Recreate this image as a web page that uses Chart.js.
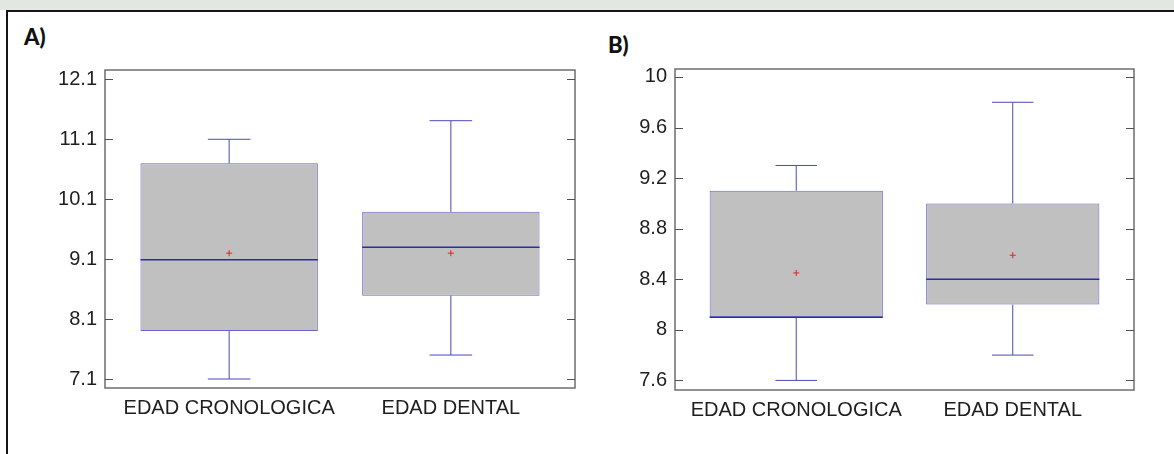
<!DOCTYPE html>
<html>
<head>
<meta charset="utf-8">
<script src="https://cdn.jsdelivr.net/npm/chart.js@4.4.1/dist/chart.umd.min.js"></script>
<style>
  body { margin: 0; width: 1174px; height: 454px; position: relative; overflow: hidden; background: #fff; }
  .strip { position: absolute; left: 0; top: 0; width: 1174px; height: 10px; background: #e3e7e1; }
  .frame { position: absolute; left: 6px; top: 10px; width: 1200px; height: 460px; border-top: 2px solid #151515; border-left: 2px solid #151515; }
  .lbl { position: absolute; font-family: Lato, "Liberation Sans", sans-serif; font-weight: 900; font-size: 22px; line-height: 22px; color: #111; }
  canvas { position: absolute; top: 0; }
</style>
</head>
<body>
<div class="strip"></div>
<div class="frame"></div>
<div class="lbl" style="left:24px; top:26px">A)</div>
<div class="lbl" style="left:608px; top:34px">B)</div>
<canvas id="chartA" width="590" height="454" style="left:0"></canvas>
<canvas id="chartB" width="584" height="454" style="left:590px"></canvas>
<script>
const categories = ['EDAD CRONOLOGICA', 'EDAD DENTAL'];

// A) box plot values
const minA = [7.1, 7.5];
const q1A = [7.9, 8.49];
const medA = [9.09, 9.3];
const q3A = [10.7, 9.89];
const maxA = [11.1, 11.41];
const meanA = [9.2, 9.2];
const yTicksA = [7.1, 8.1, 9.1, 10.1, 11.1, 12.1];

// B) box plot values
const minB = [7.6, 7.8];
const q1B = [8.1, 8.2];
const medB = [8.1, 8.4];
const q3B = [9.1, 9.0];
const maxB = [9.3, 9.8];
const meanB = [8.45, 8.59];
const yTicksB = [7.6, 8, 8.4, 8.8, 9.2, 9.6, 10];

const FONT = '"Liberation Sans", Arial, sans-serif';

// whiskers, caps and median line drawn right after the boxes
function boxExtras(st) {
    return {
        id: 'boxExtras',
        afterDatasetDraw(chart, args) {
            if (args.index !== 1) return;
            const ctx = chart.ctx;
            const x = chart.scales.x, y = chart.scales.y;
            ctx.save();
            args.meta.data.forEach((bar, i) => {
                const cx = x.getPixelForValue(i + 1);
                const half = bar.width / 2;
                const cap = half * 0.24;
                ctx.strokeStyle = '#4a4ab8';
                ctx.lineWidth = 1;
                ctx.beginPath();
                ctx.moveTo(cx, y.getPixelForValue(st.q3[i]));
                ctx.lineTo(cx, y.getPixelForValue(st.max[i]));
                ctx.moveTo(cx, y.getPixelForValue(st.q1[i]));
                ctx.lineTo(cx, y.getPixelForValue(st.min[i]));
                ctx.moveTo(cx - cap, y.getPixelForValue(st.max[i]));
                ctx.lineTo(cx + cap, y.getPixelForValue(st.max[i]));
                ctx.moveTo(cx - cap, y.getPixelForValue(st.min[i]));
                ctx.lineTo(cx + cap, y.getPixelForValue(st.min[i]));
                ctx.stroke();
                ctx.strokeStyle = '#2a2aaa';
                ctx.lineWidth = 1.5;
                ctx.beginPath();
                ctx.moveTo(cx - half, y.getPixelForValue(st.med[i]));
                ctx.lineTo(cx + half, y.getPixelForValue(st.med[i]));
                ctx.stroke();
            });
            ctx.restore();
        },
        afterDraw(chart) {
            const ctx = chart.ctx;
            const a = chart.chartArea;
            const y = chart.scales.y;
            ctx.save();
            ctx.strokeStyle = '#6e6e6e';
            ctx.lineWidth = 1.5;
            ctx.strokeRect(a.left, a.top, a.right - a.left, a.bottom - a.top);
            ctx.strokeStyle = '#505050';
            ctx.lineWidth = 1;
            ctx.beginPath();
            y.ticks.forEach(t => {
                const py = Math.round(y.getPixelForValue(t.value)) + 0.5;
                ctx.moveTo(a.left, py);
                ctx.lineTo(a.left + 8, py);
                ctx.moveTo(a.right - 8, py);
                ctx.lineTo(a.right, py);
            });
            ctx.stroke();
            ctx.restore();
        }
    };
}

function makeChart(id, st, yTicks, yMin, yMax, axisW, pad) {
    return new Chart(document.getElementById(id), {
        type: 'bar',
        data: {
            datasets: [{
                type: 'scatter',
                data: st.mean.map((m, i) => ({x: i + 1, y: m})),
                pointStyle: 'cross',
                radius: 3,
                borderColor: '#e02424',
                borderWidth: 1
            }, {
                data: categories.map((c, i) => ({x: i + 1, y: [st.q1[i], st.q3[i]]})),
                backgroundColor: '#c0c0c0',
                borderColor: '#6464cc',
                borderWidth: 1,
                borderSkipped: false,
                barPercentage: 0.8,
                categoryPercentage: 1
            }]
        },
        options: {
            responsive: false,
            animation: false,
            events: [],
            layout: {padding: pad},
            plugins: {legend: {display: false}, tooltip: {enabled: false}},
            scales: {
                x: {
                    type: 'linear',
                    min: 0.44,
                    max: 2.56,
                    offset: false,
                    grid: {display: false},
                    border: {display: false},
                    afterBuildTicks: s => { s.ticks = categories.map((c, i) => ({value: i + 1})); },
                    afterFit: s => { s.height = 40; },
                    ticks: {
                        autoSkip: false,
                        maxRotation: 0,
                        padding: 0,
                        color: '#1e1e1e',
                        font: {family: FONT, size: 20},
                        callback: v => categories[v - 1]
                    }
                },
                y: {
                    min: yMin,
                    max: yMax,
                    grid: {display: false},
                    border: {display: false},
                    afterBuildTicks: s => { s.ticks = yTicks.map(v => ({value: v})); },
                    afterFit: s => { s.width = axisW; },
                    ticks: {
                        padding: 0,
                        color: '#1e1e1e',
                        font: {family: FONT, size: 20},
                        callback: v => String(v)
                    }
                }
            }
        },
        plugins: [boxExtras(st)]
    });
}

makeChart('chartA', {min: minA, q1: q1A, med: medA, q3: q3A, max: maxA, mean: meanA},
    yTicksA, 6.95, 12.256, 105, {left: 0, right: 15, top: 70, bottom: 26});
makeChart('chartB', {min: minB, q1: q1B, med: medB, q3: q3B, max: maxB, mean: meanB},
    yTicksB, 7.524, 10.063, 85, {left: 0, right: 40, top: 69, bottom: 24});
</script>
</body>
</html>
